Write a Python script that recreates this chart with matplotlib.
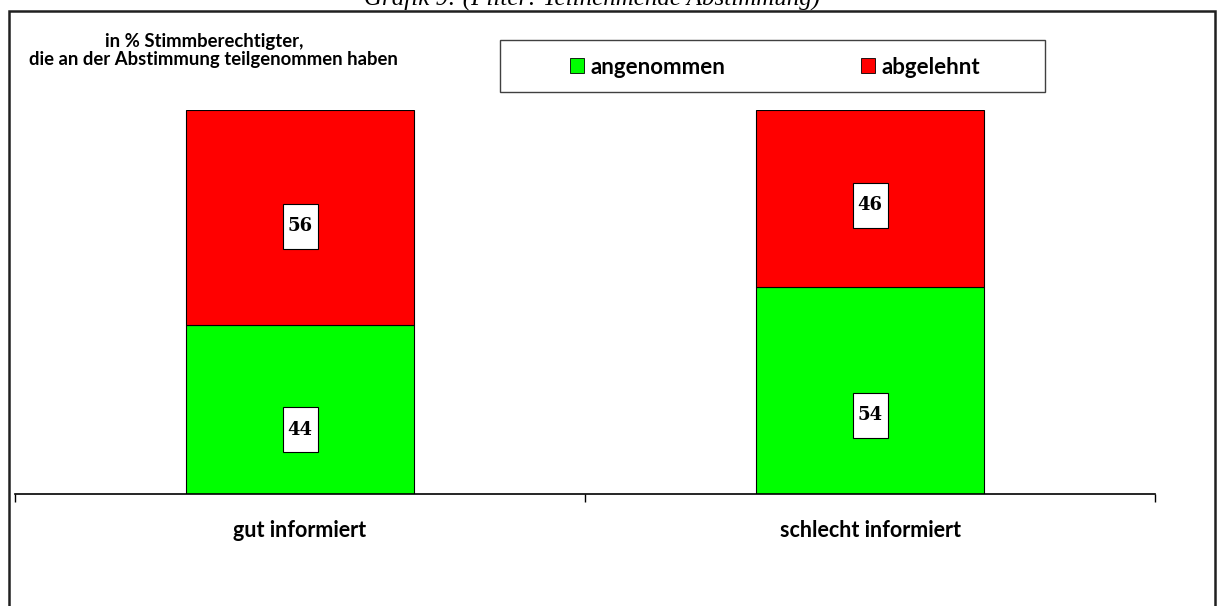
import matplotlib.pyplot as plt
from matplotlib.patches import Patch, Rectangle

categories = ['gut informiert', 'schlecht informiert']
angenommen = [44, 54]
abgelehnt = [56, 46]
series_labels = ['angenommen', 'abgelehnt']
colors = ['#00ff00', '#ff0000']

W, H = 1218, 606
fig = plt.figure(figsize=(W / 100, H / 100), dpi=100)
fig.patch.set_facecolor('white')

# outer frame (bottom runs off the page)
fig.patches.append(Rectangle((9 / W, -0.05), 1206 / W, 1.05 - 11 / H,
                             transform=fig.transFigure, fill=False,
                             edgecolor='#202020', linewidth=1.8))

# heading, mostly cut off at the top edge like in the original
fig.text(592 / W, 1 - 5 / H, 'Grafik 9: (Filter: Teilnehmende Abstimmung)',
         ha='center', va='baseline', fontsize=18, style='italic',
         family='Liberation Serif', color='black')

ax = fig.add_axes([15 / W, 112 / H, 1140 / W, 384 / H])
x = range(len(categories))
ax.bar(x, angenommen, width=0.4, color=colors[0], edgecolor='black', linewidth=0.8)
ax.bar(x, abgelehnt, width=0.4, bottom=angenommen, color=colors[1],
       edgecolor='black', linewidth=0.8)

ax.set_xlim(-0.5, 1.5)
ax.set_ylim(0, 100)
for s in ['top', 'right', 'left']:
    ax.spines[s].set_visible(False)
ax.spines['bottom'].set_linewidth(1.2)
ax.set_yticks([])
ax.set_xticks([-0.5, 0.5, 1.5])
ax.set_xticklabels([])
ax.tick_params(axis='x', direction='out', length=6, width=1, color='black')

# value boxes: ~35 x 45 px
bw, bh = 35 / 570, 45 / 3.84


def value_box(xc, yc, val):
    ax.add_patch(Rectangle((xc - bw / 2, yc - bh / 2), bw, bh, facecolor='white',
                           edgecolor='black', linewidth=0.8, zorder=3))
    ax.text(xc, yc, str(val), ha='center', va='center', fontsize=13,
            fontweight='bold', family='DejaVu Serif', zorder=4)


for i in x:
    value_box(i, angenommen[i] * 0.38, angenommen[i])
    value_box(i, angenommen[i] + abgelehnt[i] * 0.46, abgelehnt[i])
    ax.text(i, -9.5, categories[i], ha='center', va='center', fontsize=15.5,
            fontweight='bold', family='Lato')

fig.text(204 / W, 1 - 41 / H, 'in % Stimmberechtigter,', ha='center', va='center',
         fontsize=13.3, fontweight='bold', family='Lato')
fig.text(213 / W, 1 - 60 / H, 'die an der Abstimmung teilgenommen haben', ha='center',
         va='center', fontsize=13.3, fontweight='bold', family='Lato')

# legend box drawn separately, entries centred inside
fig.patches.append(Rectangle((500 / W, 1 - 92 / H), 545 / W, 52 / H,
                             transform=fig.transFigure, fill=False,
                             edgecolor='#404040', linewidth=1.0))
handles = [Patch(facecolor=c, edgecolor='black', linewidth=0.6) for c in colors]
fig.legend(handles, series_labels, loc='center', ncol=2,
           bbox_to_anchor=(775 / W, 1 - 67 / H), frameon=False,
           handlelength=0.63, handleheight=0.63, handletextpad=0.3,
           columnspacing=6.1, borderpad=0, borderaxespad=0,
           prop={'family': 'Lato', 'weight': 'bold', 'size': 16})

fig.savefig('out.png', dpi=100)
